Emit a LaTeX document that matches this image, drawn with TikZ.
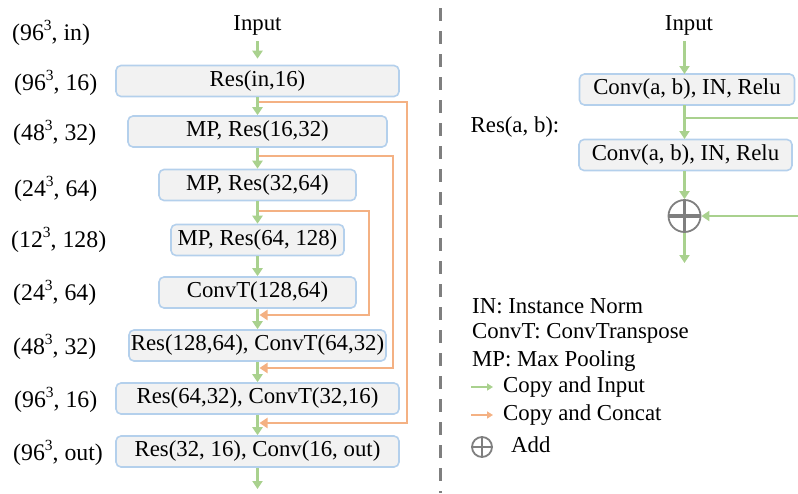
\documentclass[tikz,border=0pt]{standalone}
\usepackage{fontspec}
\setmainfont{Liberation Serif}
\usetikzlibrary{arrows.meta,calc}
\definecolor{gline}{HTML}{A9D18E}
\definecolor{oline}{HTML}{F4B183}
\definecolor{boxfill}{HTML}{F2F2F2}
\definecolor{boxedge}{HTML}{B4D0EC}
\definecolor{divgray}{HTML}{7F7F7F}
\newcommand{\cubed}{\raisebox{0.42em}{\fontsize{15.5}{15.5}\selectfont 3}}
\begin{document}
\begin{tikzpicture}[x=1pt,y=-1pt,
  every node/.style={font=\fontsize{22.8}{26}\selectfont, inner sep=0pt},
  blk/.style={draw=boxedge, fill=boxfill, rounded corners=5pt, line width=1.6pt, minimum height=31pt},
  garrow/.style={draw=gline, line width=2.4pt, -{Triangle[length=8pt,width=10pt]}},
  gline/.style={draw=gline, line width=2.4pt},
  oarrow/.style={draw=oline, line width=2.6pt, -{Triangle[length=8pt,width=10pt]}},
  lab/.style={anchor=west, font=\fontsize{23.8}{27}\selectfont},
  leg/.style={anchor=west},
  addsym/.style={circle, draw=divgray, line width=1.8pt, minimum size=#1}
]
\useasboundingbox (0,0) rectangle (798,493);
% ---------- left network ----------
\node (inp) at (257.5,25) {Input};
\node[blk, minimum width=283pt] (b1) at (257.5,81) {Res(in,16)};
\node[blk, minimum width=259pt] (b2) at (257.5,131.5) {MP, Res(16,32)};
\node[blk, minimum width=197pt] (b3) at (257.5,185) {MP, Res(32,64)};
\node[blk, minimum width=173pt] (b4) at (257.5,240) {MP, Res(64, 128)};
\node[blk, minimum width=197pt] (b5) at (257.5,292.5) {ConvT(128,64)};
\node[blk, minimum width=257pt] (b6) at (257.5,345.5) {Res(128,64), ConvT(64,32)};
\node[blk, minimum width=283pt] (b7) at (257.5,398.5) {Res(64,32), ConvT(32,16)};
\node[blk, minimum width=283pt] (b8) at (257.5,451.5) {Res(32, 16), Conv(16, out)};
\coordinate (outp) at (257.5,489);

\draw[garrow] ([yshift=-6pt]inp.south) -- ([yshift=6pt]b1.north);
\draw[garrow] (b1.south) -- (b2.north);
\draw[garrow] (b2.south) -- (b3.north);
\draw[garrow] (b3.south) -- (b4.north);
\draw[garrow] (b4.south) -- (b5.north);
\draw[garrow] (b5.south) -- (b6.north);
\draw[garrow] (b6.south) -- (b7.north);
\draw[garrow] (b7.south) -- (b8.north);
\draw[garrow] (b8.south) -- (outp);

% skip connections
\coordinate (s1a) at (259,102);   \coordinate (s1b) at (259.5,423);
\coordinate (s2a) at (259,156);   \coordinate (s2b) at (259.5,368);
\coordinate (s3a) at (259,211);   \coordinate (s3b) at (259.5,315);
\draw[oarrow] (s1a) -- (407,102) -- (407,423) -- (s1b);
\draw[oarrow] (s2a) -- (393,156) -- (393,368) -- (s2b);
\draw[oarrow] (s3a) -- (369,211) -- (369,315) -- (s3b);

% size labels
\node[lab] (l0) at (12,33) {(96\cubed, in)};
\node[lab] (l1) at (14,83) {(96\cubed, 16)};
\node[lab] (l2) at (13,133) {(48\cubed, 32)};
\node[lab] (l3) at (14,189) {(24\cubed, 64)};
\node[lab] (l4) at (11,240) {(12\cubed, 128)};
\node[lab] (l5) at (13,293) {(24\cubed, 64)};
\node[lab] (l6) at (13,347) {(48\cubed, 32)};
\node[lab] (l7) at (14,400) {(96\cubed, 16)};
\node[lab] (l8) at (13,453) {(96\cubed, out)};

% divider
\draw[divgray, line width=3pt, dash pattern=on 13pt off 10pt] (440,8) -- (440,493);

% ---------- right: residual block ----------
\node (rin) at (689,25) {Input};
\node[blk, minimum width=215pt] (ra) at (687,89.5) {Conv(a, b), IN, Relu};
\node[blk, minimum width=213pt] (rb) at (685.5,155) {Conv(a, b), IN, Relu};
\node (resl) at (515,127) {Res(a, b):};
\node[addsym=32pt] (add) at (684.5,216) {};
\draw[divgray, line width=3.5pt] (add.north) -- (add.south) (add.west) -- (add.east);
\coordinate (br) at (798,118);
\coordinate (bre) at (798,216);
\coordinate (rout) at (684.5,263);

\draw[garrow] ([yshift=-6pt]rin.south -| 684.5,0) -- (684.5,74);
\draw[garrow] (684.5,105) -- (684.5,139);
\draw[gline] (684.5,118) -- (br);
\draw[garrow] (684.5,171) -- (add.north);
\draw[garrow] (bre) -- (add.east);
\draw[gline] (add.south) -- (684.5,250);
\draw[garrow] (684.5,245) -- (rout);

% ---------- legend ----------
\node[leg] (g1) at (472,306) {IN: Instance Norm};
\node[leg] (g2) at (472,333) {ConvT: ConvTranspose};
\node[leg] (g3) at (472,361) {MP: Max Pooling};
\coordinate (ga) at (471,387); \coordinate (gb) at (493,387);
\draw[draw=gline, line width=2.2pt, -{Triangle[length=6pt,width=7pt]}] (ga) -- (gb);
\node[leg] (g4) at (503,387) {Copy and Input};
\coordinate (oa) at (471,415); \coordinate (ob) at (493,415);
\draw[draw=oline, line width=2.2pt, -{Triangle[length=6pt,width=7pt]}] (oa) -- (ob);
\node[leg] (g5) at (503,415) {Copy and Concat};
\node[addsym=20pt] (addl) at (482,447) {};
\draw[divgray, line width=2.6pt] (addl.north) -- (addl.south) (addl.west) -- (addl.east);
\node[leg] (g6) at (511,445) {Add};
\end{tikzpicture}
\end{document}
